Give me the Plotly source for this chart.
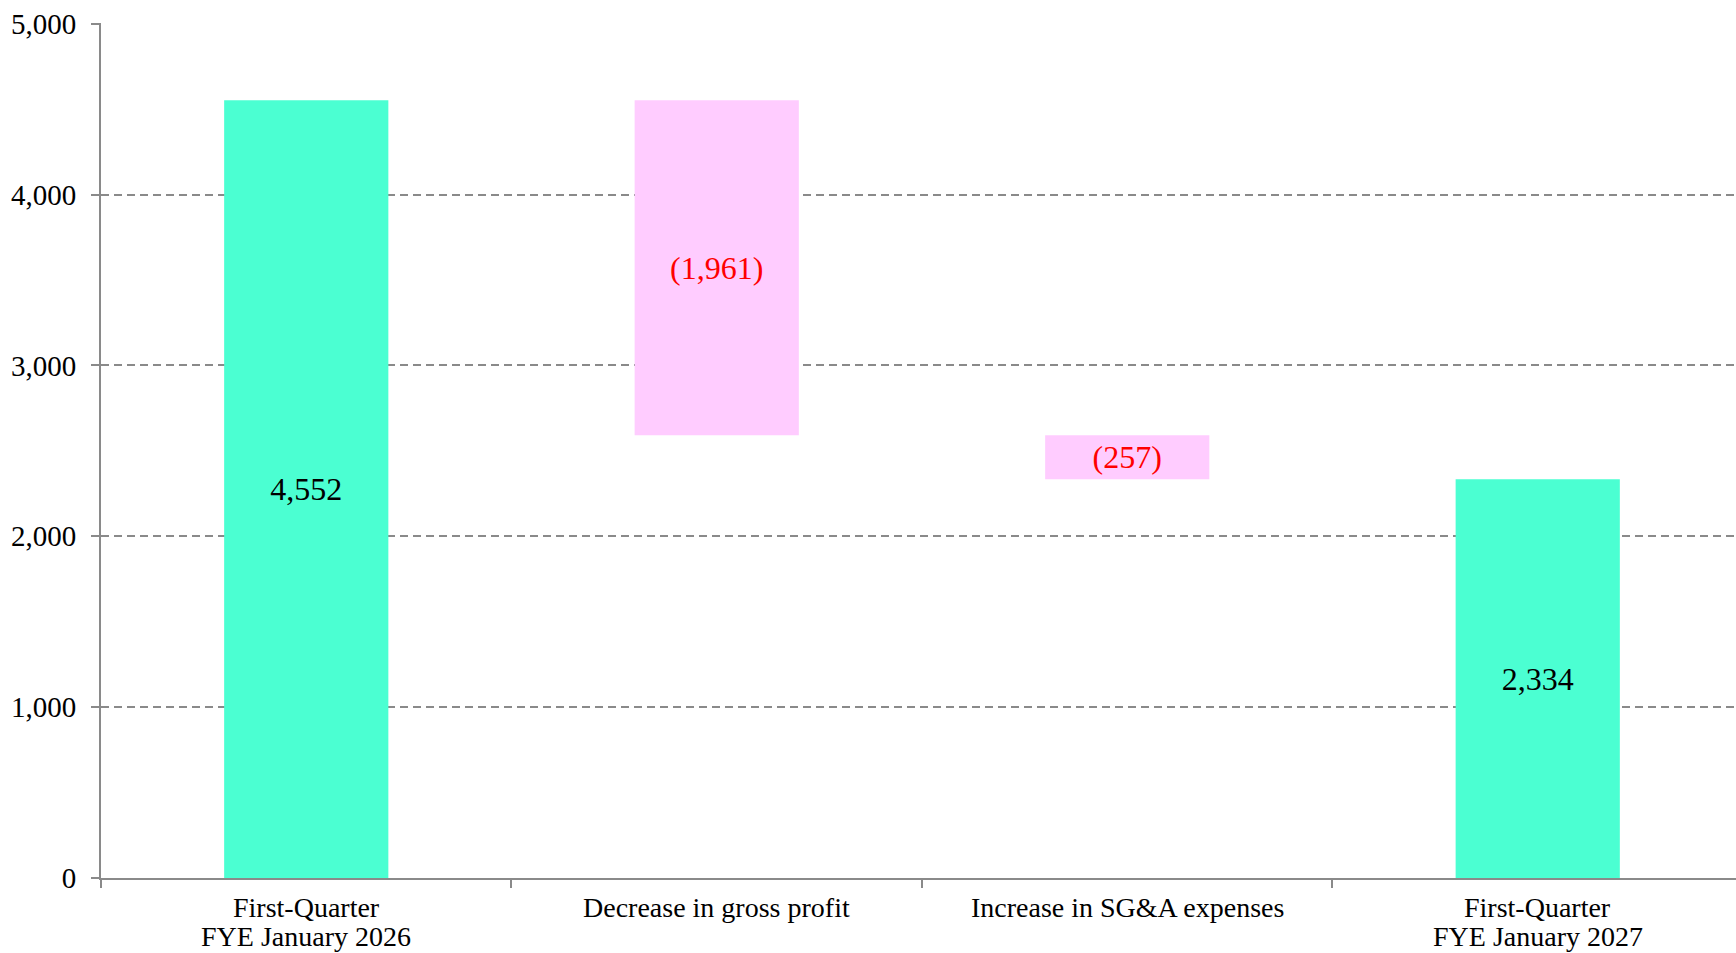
import plotly.graph_objects as go

# Operating income bridge (millions of yen)
categories = [
    "First-Quarter<br>FYE January 2026",
    "Decrease in gross profit",
    "Increase in SG&A expenses",
    "First-Quarter<br>FYE January 2027",
]
values = [4552, -1961, -257, 2334]
measures = ["absolute", "relative", "relative", "total"]
y_ticks = [0, 1000, 2000, 3000, 4000, 5000]

TEAL = "#4BFFD2"
PINK = "#FFCCFF"
GRID = "#8A8A8A"
SERIF = "Liberation Serif, Times New Roman, serif"


def fmt(v):
    return f"({abs(v):,})" if v < 0 else f"{v:,}"


labels = [fmt(v) for v in values]
label_colors = ["red" if v < 0 else "black" for v in values]

fig = go.Figure(
    go.Waterfall(
        x=categories,
        y=values,
        measure=measures,
        width=0.4,
        text=labels,
        textposition="inside",
        insidetextanchor="middle",
        constraintext="none",
        textfont=dict(family=SERIF, size=32, color=label_colors),
        increasing=dict(marker=dict(color=TEAL)),
        decreasing=dict(marker=dict(color=PINK)),
        totals=dict(marker=dict(color=TEAL)),
        connector=dict(visible=False),
        hoverinfo="skip",
    )
)

# Category labels drawn line by line for tighter line spacing
for cat in categories:
    for i, line in enumerate(cat.split("<br>")):
        fig.add_annotation(
            x=cat, xref="x",
            y=0, yref="paper",
            yanchor="middle",
            yshift=-29 - 29 * i,
            text=line,
            showarrow=False,
            borderpad=0,
            font=dict(family=SERIF, size=28, color="black"),
        )

fig.update_layout(
    width=1736,
    height=953,
    margin=dict(l=101, r=0, t=23, b=75),
    paper_bgcolor="white",
    plot_bgcolor="white",
    showlegend=False,
    font=dict(family=SERIF, size=28, color="black"),
)

fig.update_xaxes(
    range=[-0.5, 3.483],
    showline=True,
    linecolor=GRID,
    linewidth=2,
    ticks="outside",
    tickson="boundaries",
    ticklen=8,
    tickwidth=2,
    tickcolor=GRID,
    showgrid=False,
    showticklabels=False,
)

fig.update_yaxes(
    range=[0, 5004],
    tickvals=y_ticks,
    ticktext=[f"{v:,}" for v in y_ticks],
    showline=True,
    linecolor=GRID,
    linewidth=2,
    ticks="outside",
    ticklen=8,
    tickwidth=2,
    tickcolor=GRID,
    ticklabelstandoff=9,
    showgrid=True,
    gridcolor=GRID,
    gridwidth=2,
    griddash="8px,5px",
    zeroline=False,
    tickfont=dict(family=SERIF, size=29, color="black"),
)

fig.write_html("out.html")
